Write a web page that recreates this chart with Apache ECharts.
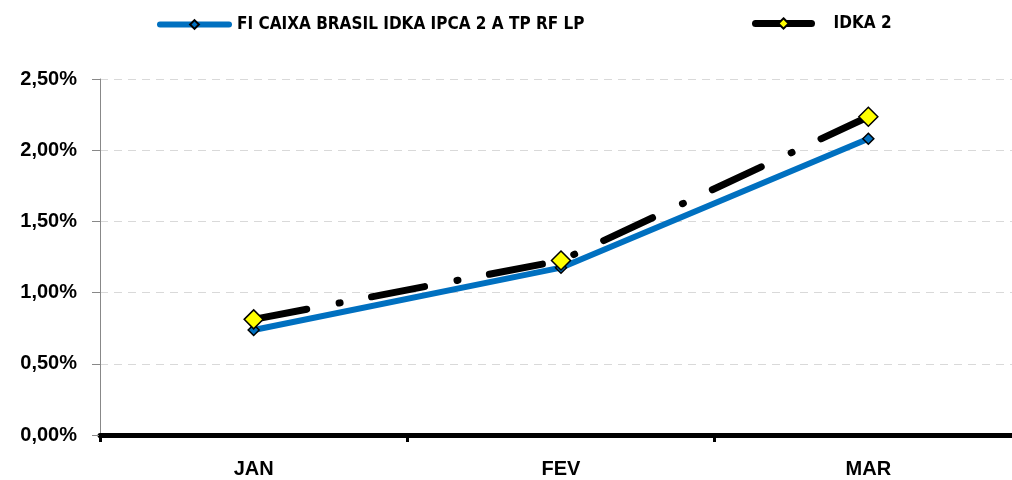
<!DOCTYPE html>
<html>
<head>
<meta charset="utf-8">
<script src="https://cdn.jsdelivr.net/npm/echarts@6/dist/echarts.min.js"></script>
<style>html,body{margin:0;padding:0;background:#fff}#c{width:1012px;height:480px}</style>
</head>
<body>
<div id="c"></div>
<script>
const categories = ['JAN', 'FEV', 'MAR'];
const fundName = 'FI CAIXA BRASIL IDKA IPCA 2 A TP RF LP';
const fundValues = [0.737, 1.175, 2.08];
const benchName = 'IDKA 2';
const benchValues = [0.812, 1.225, 2.235];
const yTicks = [0, 0.5, 1, 1.5, 2, 2.5];

const FONT = 'Liberation Sans';
const LEGEND_FONT = '"DejaVu Sans Condensed", "Liberation Sans"';
const chart = echarts.init(document.getElementById('c'));
chart.setOption({
  animation: false,
  backgroundColor: '#ffffff',
  legend: [
    {
      data: [{name: fundName}],
      left: 152, top: 11,
      itemWidth: 69, itemHeight: 11,
      lineStyle: {width: 6, cap: 'round'},
      textStyle: {fontFamily: LEGEND_FONT, fontWeight: 'bold', fontSize: 17, color: '#000', padding: [0, 0, 0, 3]}
    },
    {
      data: [{name: benchName}],
      left: 747, top: 10,
      itemWidth: 56, itemHeight: 13,
      lineStyle: {type: 'solid', width: 7, cap: 'round'},
      textStyle: {fontFamily: LEGEND_FONT, fontWeight: 'bold', fontSize: 17, color: '#000', padding: [0, 0, 0, 17]}
    }
  ],
  grid: {left: 100, width: 922, top: 79, bottom: 45, containLabel: false, outerBoundsMode: 'none'},
  xAxis: {
    type: 'category',
    data: categories,
    boundaryGap: true,
    axisLine: {lineStyle: {color: '#000', width: 5}},
    axisTick: {show: true, alignWithLabel: false, length: 7, lineStyle: {color: '#000', width: 3}},
    axisLabel: {margin: 24, fontFamily: FONT, fontWeight: 'bold', fontSize: 20, color: '#000'},
    splitLine: {show: false}
  },
  yAxis: {
    type: 'value',
    min: yTicks[0], max: yTicks[yTicks.length - 1], interval: 0.5,
    axisLine: {show: true, lineStyle: {color: '#888', width: 1}},
    axisTick: {show: true, length: 8, lineStyle: {color: '#888'}},
    axisLabel: {
      margin: 23, fontFamily: FONT, fontWeight: 'bold', fontSize: 20, color: '#000',
      formatter: v => v.toFixed(2).replace('.', ',') + '%'
    },
    splitLine: {show: true, lineStyle: {color: '#d9d9d9', type: [8, 6], width: 1}}
  },
  series: [
    {
      name: fundName,
      type: 'line',
      data: fundValues,
      symbol: 'diamond',
      symbolSize: 11,
      lineStyle: {color: '#0070C0', width: 6},
      itemStyle: {color: '#0070C0', borderColor: '#000', borderWidth: 1.5},
      z: 2
    },
    {
      name: benchName,
      type: 'line',
      data: benchValues,
      symbol: 'diamond',
      symbolSize: 19,
      lineStyle: {color: '#000', width: 7, type: [54, 33, 1, 32], cap: 'round'},
      itemStyle: {color: '#FFFF00', borderColor: '#000', borderWidth: 1.5},
      z: 3
    }
  ]
});
</script>
</body>
</html>
